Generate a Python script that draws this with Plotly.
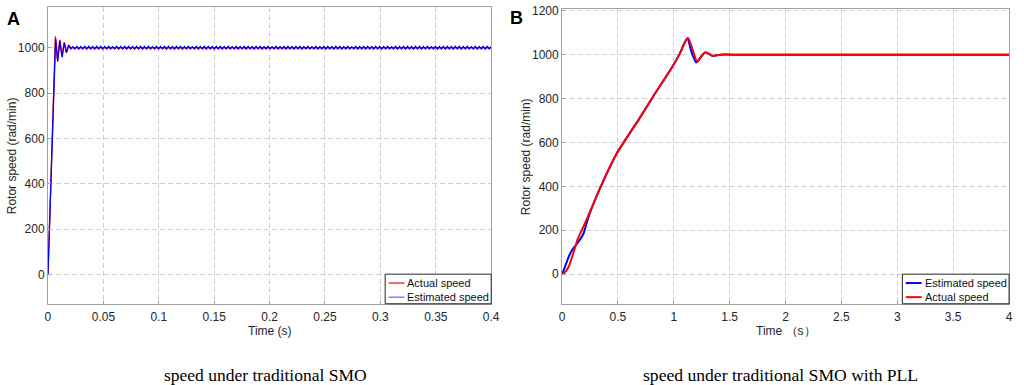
import numpy as np
import plotly.graph_objects as go

# ---------------- Panel A data (traditional SMO) ----------------
actA_t = [0.0, 0.0067, 0.0086, 0.0106, 0.0126, 0.0146, 0.0166, 0.0186, 0.0206, 0.40]
actA_v = [0, 1050, 945, 1035, 962, 1025, 978, 1012, 1000, 1000]

estA_t = [0.0, 0.0069, 0.0088, 0.0108, 0.0128, 0.0148, 0.0168, 0.0188]
estA_v = [0, 1040, 938, 1030, 958, 1022, 980, 1010]

# steady-state ripple of the estimated speed, read as alternating peaks/troughs
estA_ripple = [
    995, 1005, 995, 1006, 994, 1005, 995, 1006, 994, 1006, 995, 1005, 994, 1006, 995, 1006, 994, 1005, 995, 1006,
    995, 1005, 995, 1006, 994, 1005, 995, 1006, 994, 1006, 995, 1005, 994, 1006, 995, 1006, 994, 1005, 995, 1006,
    995, 1005, 995, 1006, 994, 1005, 995, 1006, 994, 1006, 995, 1005, 994, 1006, 995, 1006, 994, 1005, 995, 1006,
    995, 1005, 995, 1006, 994, 1005, 995, 1006, 994, 1006, 995, 1005, 994, 1006, 995, 1006, 994, 1005, 995, 1006,
    995, 1005, 995, 1006, 994, 1005, 995, 1006, 994, 1006, 995, 1005, 994, 1006, 995, 1006, 994, 1005, 995, 1006,
    995, 1005, 995, 1006, 994, 1005, 995, 1006, 994, 1006, 995, 1005, 994, 1006, 995, 1006, 994, 1005, 995, 1006,
    995, 1005, 995, 1006, 994, 1005, 995, 1006, 994, 1006, 995, 1005, 994, 1006, 995, 1006, 994, 1005, 995, 1006,
    995, 1005, 995, 1006, 994, 1005, 995, 1006, 994, 1006, 995, 1005, 994, 1006, 995, 1006, 994, 1005, 995, 1006,
    995, 1005, 995, 1006, 994, 1005, 995, 1006, 994, 1006, 995, 1005, 994, 1006, 995, 1006, 994, 1005, 995, 1006,
    995, 1005, 995, 1006, 994, 1005, 995, 1006, 994, 1006, 995, 1005, 994, 1006, 995, 1006, 994, 1005, 995, 1006,
    995, 1005, 995, 1006, 994, 1005, 995, 1006, 994, 1006, 995, 1005,
]
estA_ripple_t = np.linspace(0.0206, 0.40, len(estA_ripple)).tolist()

# ---------------- Panel B data (SMO with PLL) ----------------
actB_t = [0.0, 0.02, 0.06, 0.10, 0.14, 0.19, 0.25, 0.347, 0.49, 0.69, 0.83, 0.98, 1.05, 1.127,
          1.17, 1.21, 1.25, 1.285, 1.32, 1.35, 1.40, 1.45, 1.6, 4.0]
actB_v = [0, 5, 35, 95, 160, 215, 285, 400, 551, 708, 822, 940, 1002, 1078,
          1020, 968, 995, 1012, 1003, 995, 999, 1001, 1000, 1000]

estB_t = [0.0, 0.02, 0.06, 0.09, 0.12, 0.15, 0.19, 0.22, 0.25, 0.347, 0.49, 0.69, 0.83, 0.98, 1.05,
          1.12, 1.16, 1.20, 1.245, 1.28, 1.32, 1.35, 1.40, 1.45, 1.6, 4.0]
estB_v = [0, 25, 80, 110, 130, 150, 183, 233, 280, 400, 551, 708, 822, 940, 1002,
          1075, 1010, 965, 993, 1011, 1003, 995, 999, 1001, 1000, 1000]

xticksA = [0, 0.05, 0.1, 0.15, 0.2, 0.25, 0.3, 0.35, 0.4]
xticklabelsA = ["0", "0.05", "0.1", "0.15", "0.2", "0.25", "0.3", "0.35", "0.4"]
yticksA = [0, 200, 400, 600, 800, 1000]
xticksB = [0, 0.5, 1, 1.5, 2, 2.5, 3, 3.5, 4]
xticklabelsB = ["0", "0.5", "1", "1.5", "2", "2.5", "3", "3.5", "4"]
yticksB = [0, 200, 400, 600, 800, 1000, 1200]

RED = "#ff0000"
BLUE = "#0000ff"
SANS = "Liberation Sans, Arial, sans-serif"
SERIF = "Liberation Serif, Times New Roman, serif"
TICKC = "#262626"

W, H = 1024, 385


def px(x):
    return x / W


def py(y):
    return 1 - y / H


fig = go.Figure()

# Panel A traces
fig.add_trace(go.Scatter(x=actA_t, y=actA_v, mode="lines", name="Actual speed",
                         line=dict(color=RED, width=1.3), xaxis="x", yaxis="y", showlegend=False))
fig.add_trace(go.Scatter(x=estA_t + estA_ripple_t, y=estA_v + estA_ripple, mode="lines",
                         name="Estimated speed", line=dict(color=BLUE, width=1.3),
                         xaxis="x", yaxis="y", showlegend=False))

# Panel B traces
fig.add_trace(go.Scatter(x=estB_t, y=estB_v, mode="lines", name="Estimated speed",
                         line=dict(color=BLUE, width=2, shape="spline", smoothing=0.6),
                         xaxis="x2", yaxis="y2", showlegend=False))
fig.add_trace(go.Scatter(x=actB_t, y=actB_v, mode="lines", name="Actual speed",
                         line=dict(color=RED, width=2, shape="spline", smoothing=0.6),
                         xaxis="x2", yaxis="y2", showlegend=False))

axis_common = dict(
    showline=True, linecolor="#a0a0a0", linewidth=1, mirror=True,
    showgrid=True, gridcolor="#d0d0d0", griddash="5px,3px", gridwidth=1,
    ticks="inside", ticklen=3, tickcolor="#a0a0a0",
    tickfont=dict(family=SANS, size=12, color=TICKC),
    ticklabeloverflow="allow",
    zeroline=False,
)

A_L, A_R, B_L, B_R = 45.5, 494, 565.7, 1018
TOP_A, TOP_B, BOT = 2, 4, 302.7

fig.update_layout(
    width=W, height=H,
    margin=dict(l=0, r=0, t=0, b=0),
    paper_bgcolor="white", plot_bgcolor="white",
    xaxis=dict(domain=[px(A_L), px(A_R)], range=[0, 0.4], tickvals=xticksA,
               ticktext=xticklabelsA, anchor="y", ticklabelstandoff=2, **axis_common),
    yaxis=dict(domain=[py(BOT), py(TOP_A)], range=[-130, 1180], tickvals=yticksA, anchor="x",
               **axis_common),
    xaxis2=dict(domain=[px(B_L), px(B_R)], range=[0, 4], tickvals=xticksB,
                ticktext=xticklabelsB, anchor="y2", ticklabelstandoff=2, **axis_common),
    yaxis2=dict(domain=[py(BOT), py(TOP_B)], range=[-135, 1209], tickvals=yticksB, anchor="x2",
                **axis_common),
    showlegend=False,
)

ann = []
shapes = []


def text(t, x, y, size, family=SANS, color=TICKC, xa="center", ya="middle", angle=0):
    ann.append(dict(text=t, x=px(x), y=py(y), xref="paper", yref="paper", xanchor=xa, yanchor=ya,
                    textangle=angle, showarrow=False, font=dict(family=family, size=size, color=color)))


# Panel letters
text("<b>A</b>", 2, 2, 18, color="black", xa="left", ya="top")
text("<b>B</b>", 511, 1, 18, color="black", xa="left", ya="top")
# Y-axis titles
text("Rotor speed (rad/min)", 9, (TOP_A + BOT) / 2, 12, angle=-90)
text("Rotor speed (rad/min)", 530, (TOP_B + BOT) / 2, 12, angle=-90)
# X-axis titles
text("Time (s)", (A_L + A_R) / 2, 330, 12)
text("Time （s）", (B_L + B_R) / 2, 330, 12)
# Captions
text("speed under traditional SMO", 266, 375, 17.5, family=SERIF, color="black")
text("speed under traditional SMO with PLL", 787, 375, 17.6, family=SERIF, color="black")


# Legends (boxes with line samples and labels)
def legend(x0, x1, y0, y1, items, lw):
    shapes.append(dict(type="rect", xref="paper", yref="paper", x0=px(x0), x1=px(x1), y0=py(y1), y1=py(y0),
                       line=dict(color="#262626", width=1), fillcolor="white", layer="above"))
    for i, (name, color) in enumerate(items):
        yy = y0 + 9 + i * 14.3
        shapes.append(dict(type="line", xref="paper", yref="paper", x0=px(x0 + 3.5), x1=px(x0 + 19.5),
                           y0=py(yy), y1=py(yy), line=dict(color=color, width=lw), layer="above"))
        text(name, x0 + 20.5, yy, 11, color="#111111", xa="left")


legend(386.7, A_R, 272.7, BOT, [("Actual speed", RED), ("Estimated speed", "#6060ff")], 1.2)
legend(910, B_R, 272.7, BOT, [("Estimated speed", BLUE), ("Actual speed", RED)], 2)

fig.update_layout(annotations=ann, shapes=shapes)

fig.write_html("out.html", config={"displayModeBar": False},
               post_script="document.body.style.margin='0';document.body.style.padding='0';")
